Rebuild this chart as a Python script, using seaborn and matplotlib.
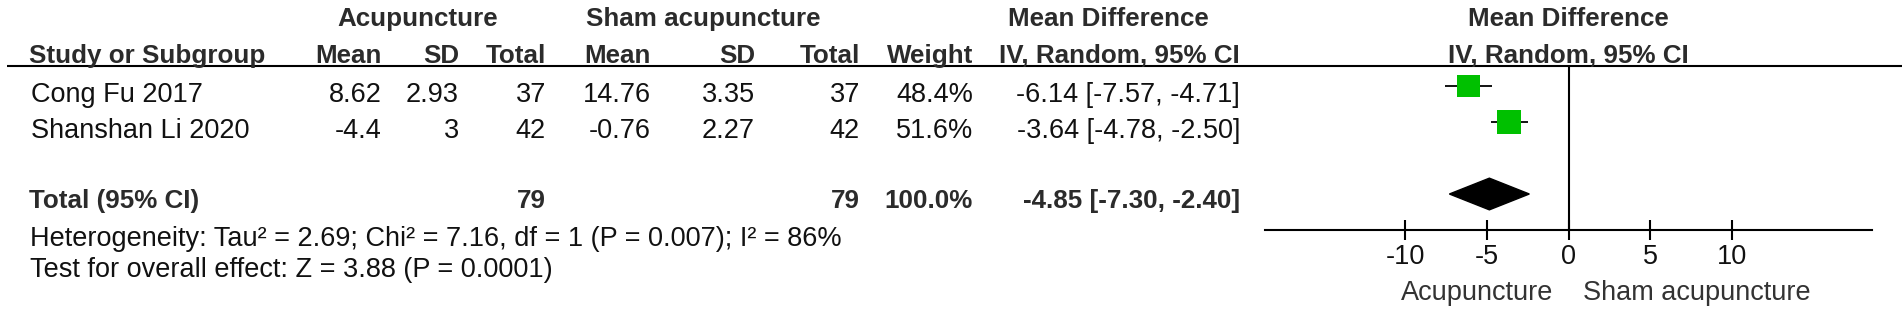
import numpy as np
import pandas as pd
import seaborn as sns
import matplotlib.pyplot as plt
from matplotlib.patches import Polygon

# dati degli studi
studies = ['Cong Fu 2017', 'Shanshan Li 2020']
acu_mean = [8.62, -4.4]
acu_sd = [2.93, 3]
acu_n = [37, 42]
sham_mean = [14.76, -0.76]
sham_sd = [3.35, 2.27]
sham_n = [37, 42]
weight = [48.4, 51.6]
md = [-6.14, -3.64]
ci_lo = [-7.57, -4.78]
ci_hi = [-4.71, -2.50]

# effetto complessivo
total_acu = 79
total_sham = 79
total_weight = 100.0
total_md = -4.85
total_lo = -7.30
total_hi = -2.40

heterogeneity = 'Heterogeneity: Tau\u00b2 = 2.69; Chi\u00b2 = 7.16, df = 1 (P = 0.007); I\u00b2 = 86%'
overall = 'Test for overall effect: Z = 3.88 (P = 0.0001)'
ticks = [-10, -5, 0, 5, 10]
favours = ['Acupuncture', 'Sham acupuncture']

sns.set_style('white')
plt.rcParams['font.family'] = ['Liberation Sans', 'DejaVu Sans']

W, H = 1902, 311
fig = plt.figure(figsize=(W / 100, H / 100), dpi=100)

# asse "tabella" in coordinate pixel
tab = fig.add_axes([0, 0, 1, 1])
tab.set_xlim(0, W)
tab.set_ylim(H, 0)
tab.axis('off')

bold = dict(fontsize=18.7, fontweight='bold', color='#2b2b2b')
norm = dict(fontsize=19.5, color='#111111')

# intestazioni
tab.text(418, 26, 'Acupuncture', ha='center', va='baseline', **bold)
tab.text(703, 26, 'Sham acupuncture', ha='center', va='baseline', **bold)
tab.text(1108, 26, 'Mean Difference', ha='center', va='baseline', **bold)
tab.text(1568, 26, 'Mean Difference', ha='center', va='baseline', **bold)

cols = [382, 459, 546, 651, 755, 860, 973, 1240]
heads = ['Mean', 'SD', 'Total', 'Mean', 'SD', 'Total', 'Weight', 'IV, Random, 95% CI']
tab.text(29, 63, 'Study or Subgroup', ha='left', va='baseline', **bold)
for x, h in zip(cols, heads):
    tab.text(x, 63, h, ha='right', va='baseline', **bold)
tab.text(1568, 63, 'IV, Random, 95% CI', ha='center', va='baseline', **bold)

tab.plot([7, W], [66, 66], color='black', lw=1.5, solid_capstyle='butt')

# righe degli studi
for i, s in enumerate(studies):
    y = 102 + 36 * i
    vals = [f'{acu_mean[i]:g}', f'{acu_sd[i]:g}', f'{acu_n[i]}',
            f'{sham_mean[i]:g}', f'{sham_sd[i]:g}', f'{sham_n[i]}',
            f'{weight[i]:.1f}%', f'{md[i]:.2f} [{ci_lo[i]:.2f}, {ci_hi[i]:.2f}]']
    tab.text(31, y, s, ha='left', va='baseline', **norm)
    for x, v in zip(cols, vals):
        tab.text(x, y, v, ha='right', va='baseline', **norm)

# riga totale
tab.text(29, 208, 'Total (95% CI)', ha='left', va='baseline', **bold)
tab.text(cols[2], 208, f'{total_acu}', ha='right', va='baseline', **bold)
tab.text(cols[5], 208, f'{total_sham}', ha='right', va='baseline', **bold)
tab.text(cols[6], 208, f'{total_weight:.1f}%', ha='right', va='baseline', **bold)
tab.text(cols[7], 208, f'{total_md:.2f} [{total_lo:.2f}, {total_hi:.2f}]',
         ha='right', va='baseline', **bold)

tab.text(30, 246, heterogeneity, ha='left', va='baseline', **norm)
tab.text(30, 277, overall, ha='left', va='baseline', **norm)

# forest plot
forest = fig.add_axes([1265 / W, (H - 230) / H, 607 / W, 164 / H])
forest.set_facecolor('none')
forest.set_xlim(-18.6, 18.6)
forest.set_ylim(4.0, -0.556)

rows = np.arange(len(studies))
forest.hlines(rows, ci_lo, ci_hi, color='black', lw=1.3, zorder=2)
df = pd.DataFrame({'md': md, 'row': rows, 'weight': weight})
side = 23 * 0.72 * np.sqrt(np.array(weight) / 50)
sns.scatterplot(data=df, x='md', y='row', marker='s', s=side ** 2,
                color='#00c000', linewidth=0, legend=False, ax=forest, zorder=3)

total_row = 3
forest.add_patch(Polygon([(total_lo, total_row), (total_md, total_row - 0.44),
                          (total_hi, total_row), (total_md, total_row + 0.44)],
                         closed=True, color='black', zorder=3))

forest.axvline(0, color='black', lw=1.5, zorder=1)

for sp in ['top', 'left', 'right']:
    forest.spines[sp].set_visible(False)
forest.spines['bottom'].set_color('black')
forest.spines['bottom'].set_linewidth(1.5)
forest.set_xticks(ticks)
forest.set_xticklabels([f'{t}' for t in ticks])
forest.set_yticks([])
forest.tick_params(axis='x', bottom=True, direction='inout', length=14, width=1.5,
                   pad=3, labelsize=19.5, colors='black', labelcolor='#111111')
forest.set_xlabel('')
forest.set_ylabel('')

tab.text(1553, 300, favours[0], ha='right', va='baseline', fontsize=19.5, color='#333333')
tab.text(1583, 300, favours[1], ha='left', va='baseline', fontsize=19.5, color='#333333')

fig.savefig('out.png', dpi=100)
